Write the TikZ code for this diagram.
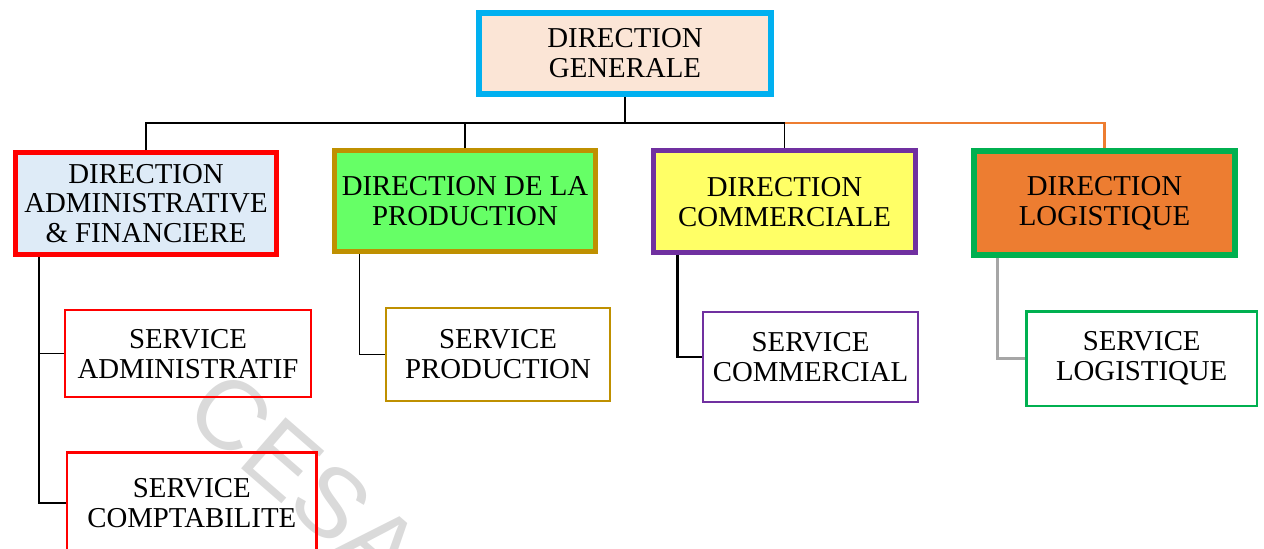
\documentclass[tikz,border=0pt]{standalone}
\usepackage{fontspec}
\setmainfont{Liberation Serif}
\newfontfamily\wmfont{Liberation Sans}

\definecolor{dgborder}{HTML}{00B0F0}
\definecolor{dgfill}{HTML}{FBE5D6}
\definecolor{dafborder}{HTML}{FF0000}
\definecolor{daffill}{HTML}{DEEBF7}
\definecolor{dpborder}{HTML}{BF9000}
\definecolor{dpfill}{HTML}{66FF66}
\definecolor{dcborder}{HTML}{7030A0}
\definecolor{dcfill}{HTML}{FFFF66}
\definecolor{dlborder}{HTML}{00B050}
\definecolor{dlfill}{HTML}{ED7D31}
\definecolor{wmgray}{HTML}{DADADA}

\begin{document}
\begin{tikzpicture}[x=0.02cm,y=-0.02cm,
  box/.style={draw,rectangle,align=center,inner sep=0pt,
    font=\fontsize{16.4}{17}\selectfont},
  dirbox/.style={box,line width=0.1cm,minimum width=5.24cm,minimum height=2.04cm},
  servbox/.style={box,line width=0.05cm},
  link/.style={line width=0.6pt,black},
  sublink/.style={line width=0.75pt,black}]

  \useasboundingbox (0,0) rectangle (1264,548);

  \node (wm) at (305,479) [rotate=-41,text=wmgray,font=\wmfont\fontsize{56}{56}\selectfont]{CESA};

  \node (dg) at (625,53.5) [box,line width=0.12cm,draw=dgborder,fill=dgfill,
    minimum width=5.84cm,minimum height=1.62cm]{DIRECTION\\GENERALE};

  \node (daf) at (146,203.5) [dirbox,draw=dafborder,fill=daffill]{DIRECTION\\ADMINISTRATIVE\\\& FINANCIERE};
  \node (dp) at (465,201.3) [dirbox,draw=dpborder,fill=dpfill,minimum height=2.02cm]{DIRECTION DE LA\\PRODUCTION};
  \node (dc) at (784.5,201.7) [dirbox,draw=dcborder,fill=dcfill,minimum width=5.24cm,minimum height=2.03cm]{DIRECTION\\COMMERCIALE};
  \node (dl) at (1104.5,203) [dirbox,draw=dlborder,fill=dlfill,line width=0.11cm,minimum width=5.22cm,minimum height=2.08cm]{DIRECTION\\LOGISTIQUE};

  \node (sadm) at (188,353.7) [servbox,draw=dafborder,minimum width=4.92cm,minimum height=1.74cm]{SERVICE\\ADMINISTRATIF};
  \node (scpt) at (191.8,503) [servbox,draw=dafborder,minimum width=4.99cm,minimum height=2.02cm]{SERVICE\\COMPTABILITE};
  \node (sprod) at (498,354.5) [servbox,draw=dpborder,minimum width=4.48cm,minimum height=1.86cm]{SERVICE\\PRODUCTION};
  \node (scom) at (810.5,357) [servbox,draw=dcborder,minimum width=4.3cm,minimum height=1.8cm]{SERVICE\\COMMERCIAL};
  \node (slog) at (1141.7,358.7) [servbox,draw=dlborder,minimum width=4.61cm,minimum height=1.89cm]{SERVICE\\LOGISTIQUE};

  \coordinate (bus) at (625,123);

  \draw[line width=1.2pt,dlfill] (bus) -| (dl.north);
  \draw[link] (daf.north) |- (bus) -| (dc.north);
  \draw[link] (dp.north) -- (dp.north |- bus);
  \draw[line width=0.85pt] (dg.south) -- (bus);

  \draw[sublink] ([xshift=0.53cm]daf.south west) |- (sadm.west);
  \draw[sublink] ([xshift=0.53cm]daf.south west) |- (scpt.west);
  \draw[sublink] ([xshift=0.56cm]dp.south west) |- (sprod.west);
  \draw[line width=1.6pt] ([xshift=0.53cm]dc.south west) |- (scom.west);
  \draw[line width=1.6pt,black!35] ([xshift=0.52cm]dl.south west) |- (slog.west);

\end{tikzpicture}
\end{document}
